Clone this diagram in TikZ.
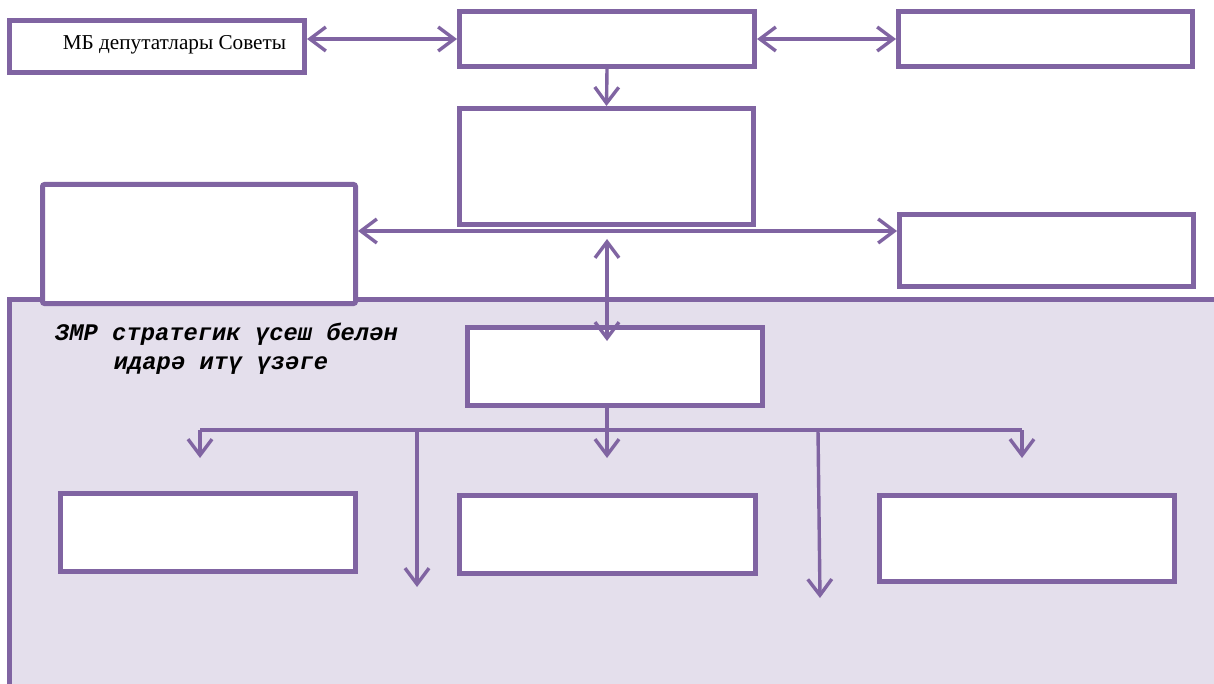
\documentclass[tikz,border=0pt]{standalone}
\usepackage{fontspec}
\setmainfont{Liberation Serif}
\newfontfamily\monofam{Liberation Mono}
\usetikzlibrary{arrows.meta}
\definecolor{vio}{HTML}{8064A2}
\definecolor{lav}{HTML}{E4DFEC}
\begin{document}
\begin{tikzpicture}[x=0.5pt,y=-0.5pt,
  box/.style={draw=vio, line width=2.5pt, fill=white, inner sep=0pt},
  conn/.style={draw=vio, line width=1.7pt},
  >={Straight Barb[length=8pt,width=12pt]},
  lbl/.style={inner sep=0pt, anchor=base},
  monotxt/.style={inner sep=0pt, anchor=base, font=\monofam\bfseries\itshape\fontsize{11.9}{14}\selectfont}]
\useasboundingbox (0,0) rectangle (1214,684);
% panel
\fill[lav] (9.5,299.5) rectangle (1240,700);
\draw[vio, line width=2.5pt] (1240,299.5) -- (9.5,299.5) -- (9.5,700);
% boxes
\node[box, minimum width=147.5pt, minimum height=26pt]   (A) at (157,46.5) {};
\node[box, minimum width=147.5pt, minimum height=27.5pt] (B) at (607,39) {};
\node[box, minimum width=147pt,   minimum height=27.5pt] (C) at (1045.5,39) {};
\node[box, minimum width=147pt,   minimum height=58pt]   (D) at (606.5,166.5) {};
\node[box, minimum width=156.5pt, minimum height=59.5pt, rounded corners=1pt] (E) at (199,244) {};
\node[box, minimum width=147pt,   minimum height=36pt]   (F) at (1046.5,250.5) {};
\node[box, minimum width=147.5pt, minimum height=39pt]   (G) at (615,366.5) {};
\node[box, minimum width=147.5pt, minimum height=39pt]   (H) at (208,532.5) {};
\node[box, minimum width=148pt,   minimum height=39pt]   (I) at (607.5,534.5) {};
\node[box, minimum width=147.5pt, minimum height=43pt]   (J) at (1027,538.5) {};
% texts
\node[lbl, font=\fontsize{10.6}{12}\selectfont] (Alabel) at (174.5,50) {МБ депутатлары Советы};
\node[monotxt] (Z1) at (226.5,340) {ЗМР стратегик үсеш белән};
\node[monotxt] (Z2) at (221,369) {идарә итү үзәге};
% connectors
\draw[conn,<->] (A.east |- B.west) -- (B.west);
\draw[conn,<->] (B.east) -- (C.west);
\draw[conn,->] (B.south) -- (D.north);
\coordinate (EF) at (607,231);
\draw[conn,<->] (E.east |- EF) -- (F.west |- EF);
\coordinate (v1) at (607,239);
\coordinate (v2) at (607,341);
\draw[conn,<->] (v1) -- (v2);
\coordinate (gEnd) at (607,458);
\draw[conn,->] (v1 |- G.south) -- (gEnd);
\coordinate (bl) at (200,430);
\coordinate (br) at (1022,430);
\coordinate (m1) at (417,430);
\coordinate (m2) at (818,430);
\draw[conn] (bl) -- (br);
\coordinate (blEnd) at (200,458);
\coordinate (brEnd) at (1022,458);
\coordinate (m1End) at (417,587);
\coordinate (m2End) at (820,598);
\draw[conn,->] (bl) -- (blEnd);
\draw[conn,->] (br) -- (brEnd);
\draw[conn,->] (m1) -- (m1End);
\draw[conn,->] (m2) -- (m2End);
\end{tikzpicture}
\end{document}
